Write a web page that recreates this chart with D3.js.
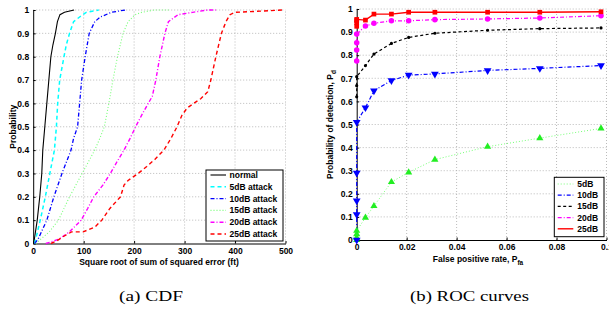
<!DOCTYPE html>
<html><head><meta charset="utf-8">
<script src="https://cdn.jsdelivr.net/npm/d3@7"></script>
<style>
body{margin:0;background:#fff;}
svg{display:block;}
.tick text{font-family:"Liberation Sans",Arial,sans-serif;font-weight:bold;font-size:8.5px;fill:#000;}
</style></head><body>
<svg id="c" width="609" height="309"></svg>
<script>
// ---------- (a) CDF data ----------
const cdfLabels = ["normal","5dB attack","10dB attack","15dB attack","20dB attack","25dB attack"];
const normalX = [1, 8, 13, 17, 19, 23, 27, 31, 35, 39, 44, 48, 53, 62, 81];
const normalP = [0, 0.1, 0.2, 0.3, 0.4, 0.5, 0.6, 0.7, 0.8, 0.85, 0.9, 0.95, 0.98, 0.99, 1.0];
const atk5X = [3, 14, 24, 33, 42, 46, 48.5, 52.5, 61, 65.5, 72, 80, 92, 105, 130];
const atk5P = [0, 0.1, 0.2, 0.3, 0.4, 0.5, 0.6, 0.7, 0.8, 0.85, 0.9, 0.95, 0.97, 0.99, 1.0];
const atk10X = [3, 10, 27, 41, 57, 75, 80, 88, 92, 96, 103, 111, 122, 133, 155, 182];
const atk10P = [0, 0.02, 0.1, 0.2, 0.3, 0.4, 0.45, 0.5, 0.6, 0.7, 0.8, 0.9, 0.95, 0.97, 0.99, 1.0];
const atk15X = [5, 32, 50, 72, 97, 122, 132, 141, 150, 158, 167, 178, 188, 202, 215, 240, 270];
const atk15P = [0, 0.05, 0.1, 0.2, 0.3, 0.4, 0.45, 0.5, 0.6, 0.7, 0.8, 0.9, 0.95, 0.98, 0.99, 1.0, 1.0];
const atk20X = [25, 40, 52, 72, 95, 108, 120, 138, 153, 166, 180, 192, 203, 215, 228, 236, 243, 251, 261, 268, 287, 316, 345, 362];
const atk20P = [0, 0.01, 0.02, 0.05, 0.1, 0.15, 0.2, 0.25, 0.3, 0.35, 0.4, 0.45, 0.5, 0.55, 0.6, 0.63, 0.7, 0.8, 0.9, 0.95, 0.98, 0.99, 1.0, 1.0];
const atk25X = [35, 46, 60, 76, 99, 122, 136, 152, 173, 180, 188, 208, 225, 241, 259, 273, 285, 295, 305, 318, 332, 346, 352, 362, 373, 382, 390, 400, 450, 495];
const atk25P = [0, 0.01, 0.03, 0.05, 0.05, 0.07, 0.1, 0.15, 0.2, 0.25, 0.27, 0.3, 0.33, 0.36, 0.4, 0.45, 0.5, 0.55, 0.58, 0.6, 0.62, 0.65, 0.7, 0.8, 0.9, 0.95, 0.98, 0.99, 0.995, 1.0];
const cdfXTicks = [0, 100, 200, 300, 400, 500];
const probTicks = [0, 0.1, 0.2, 0.3, 0.4, 0.5, 0.6, 0.7, 0.8, 0.9, 1];

// ---------- (b) ROC data ----------
const rocLabels = ["5dB","10dB","15dB","20dB","25dB"];
const roc5Fpr = [0, 0, 0, 0, 0.0035, 0.0069, 0.0139, 0.0208, 0.0313, 0.0524, 0.0733, 0.0978];
const roc5Pd = [0, 0.01, 0.025, 0.04, 0.097, 0.147, 0.251, 0.293, 0.348, 0.404, 0.441, 0.483];
const roc10Fpr = [0, 0, 0, 0, 0, 0.0035, 0.0069, 0.0139, 0.0208, 0.0313, 0.0524, 0.0733, 0.0978];
const roc10Pd = [0, 0.11, 0.17, 0.29, 0.51, 0.573, 0.646, 0.69, 0.714, 0.719, 0.734, 0.743, 0.755];
const roc15Fpr = [0, 0, 0, 0.0035, 0.0069, 0.0139, 0.0208, 0.0313, 0.0524, 0.0733, 0.0978];
const roc15Pd = [0.62, 0.668, 0.707, 0.755, 0.805, 0.851, 0.877, 0.895, 0.908, 0.915, 0.918];
const roc20Fpr = [0, 0, 0, 0, 0.0035, 0.0069, 0.0139, 0.0208, 0.0313, 0.0524, 0.0733, 0.0978];
const roc20Pd = [0.775, 0.822, 0.854, 0.892, 0.926, 0.938, 0.949, 0.949, 0.954, 0.957, 0.961, 0.971];
const roc25Fpr = [0, 0, 0, 0, 0.0035, 0.0069, 0.0139, 0.0208, 0.0313, 0.0524, 0.0733, 0.0978];
const roc25Pd = [0.925, 0.94, 0.95, 0.955, 0.952, 0.978, 0.978, 0.986, 0.986, 0.986, 0.986, 0.988];
const rocXTicks = [0, 0.02, 0.04, 0.06, 0.08, 0.1];

const FONT = '"Liberation Sans",Arial,sans-serif';
const SERIF = '"Liberation Serif","Times New Roman",serif';
const svg = d3.select("#c");
const zip = (a,b) => a.map((v,i)=>[v,b[i]]);
const probFmt = d => (d===0||d===1) ? String(d) : d.toFixed(1);

function drawFrame(g, x, y, xTicks, xFmt) {
  const [x0,x1] = x.range(), [y0,y1] = y.range();
  const grid = g.append("g");
  xTicks.filter(d=>d!==0).forEach(d=>{
    grid.append("line").attr("x1",x(d)).attr("x2",x(d)).attr("y1",y0).attr("y2",y1)
      .attr("stroke","#aaa").attr("stroke-width",0.8).attr("stroke-dasharray","1,2");
  });
  probTicks.filter(d=>d!==0).forEach(d=>{
    grid.append("line").attr("x1",x0).attr("x2",x1).attr("y1",y(d)).attr("y2",y(d))
      .attr("stroke","#aaa").attr("stroke-width",0.8).attr("stroke-dasharray","1,2");
  });
  const ax = g.append("g").attr("transform",`translate(0,${y0})`)
    .call(d3.axisBottom(x).tickValues(xTicks).tickFormat(xFmt).tickSize(-2.5).tickSizeOuter(0).tickPadding(4));
  const ay = g.append("g").attr("transform",`translate(${x0},0)`)
    .call(d3.axisLeft(y).tickValues(probTicks).tickFormat(probFmt).tickSize(-2.5).tickSizeOuter(0).tickPadding(4));
  [ax,ay].forEach(a=>{a.select(".domain").attr("stroke","#000").attr("stroke-width",1);
    a.selectAll(".tick line").attr("stroke","#000");});
}

// ===== Left: CDF =====
const xL = d3.scaleLinear().domain([0,500]).range([33.2,285.5]);
const yL = d3.scaleLinear().domain([0,1]).range([243.5,10]);
const gL = svg.append("g");
drawFrame(gL, xL, yL, cdfXTicks, d=>String(d));

const cdfSeries = [
  {x:normalX,p:normalP,c:"#000000",dash:null,w:1.1},
  {x:atk5X,p:atk5P,c:"#00ffff",dash:"4,3",w:1.5},
  {x:atk10X,p:atk10P,c:"#0000ff",dash:"4,2,1,2",w:1.3},
  {x:atk15X,p:atk15P,c:"#77ff77",dash:"1,2",w:1.1},
  {x:atk20X,p:atk20P,c:"#ff00ff",dash:"4,2,1,2",w:1.4},
  {x:atk25X,p:atk25P,c:"#ff0000",dash:"4,3",w:1.4}
];
const lineL = d3.line().x(d=>xL(d[0])).y(d=>yL(d[1]));
cdfSeries.forEach(s=>{
  gL.append("path").attr("d",lineL(zip(s.x,s.p))).attr("fill","none")
    .attr("stroke",s.c).attr("stroke-width",s.w).attr("stroke-dasharray",s.dash);
});

// axis labels
svg.append("text").attr("x",159).attr("y",265).attr("text-anchor","middle")
  .attr("font-family",FONT).attr("font-weight","bold").attr("font-size","8.5px").text("Square root of sum of squared error (ft)");
svg.append("text").attr("transform","translate(16,126.75) rotate(-90)").attr("text-anchor","middle")
  .attr("font-family",FONT).attr("font-weight","bold").attr("font-size","8.5px").text("Probability");

// legend L
const legL = svg.append("g");
legL.append("rect").attr("x",206).attr("y",170).attr("width",77).attr("height",71)
  .attr("fill","#fff").attr("stroke","#000").attr("stroke-width",1);
cdfLabels.forEach((lab,i)=>{
  const yy = 175 + i*11.8;
  const s = cdfSeries[i];
  legL.append("line").attr("x1",210.5).attr("x2",226).attr("y1",yy).attr("y2",yy)
    .attr("stroke",s.c).attr("stroke-width",s.w).attr("stroke-dasharray",s.dash);
  legL.append("text").attr("x",229.5).attr("y",yy+3).attr("font-family",FONT).attr("font-weight","bold")
    .attr("font-size","8.5px").text(lab);
});

// ===== Right: ROC =====
const xR = d3.scaleLinear().domain([0,0.1]).range([356.7,606.5]);
const yR = d3.scaleLinear().domain([0,1]).range([240,9]);
const gR = svg.append("g");
drawFrame(gR, xR, yR, rocXTicks, d=>d===0?"0":String(+d.toFixed(2)));

const rocSeries = [
  {x:roc5Fpr,p:roc5Pd,c:"#77ff77",mc:"#22ee22",dash:"1,2",w:1,m:"tri"},
  {x:roc10Fpr,p:roc10Pd,c:"#0000ff",mc:"#0000ff",dash:"4,2,1,2",w:1.2,m:"tridown"},
  {x:roc15Fpr,p:roc15Pd,c:"#000000",mc:"#000000",dash:"3,2.5",w:1.2,m:"dot"},
  {x:roc20Fpr,p:roc20Pd,c:"#ff00ff",mc:"#ff00ff",dash:"4,2,1,2",w:1.2,m:"circle"},
  {x:roc25Fpr,p:roc25Pd,c:"#ff0000",mc:"#ff0000",dash:null,w:1.4,m:"square"}
];
const lineR = d3.line().x(d=>xR(d[0])).y(d=>yR(d[1]));
rocSeries.forEach(s=>{
  gR.append("path").attr("d",lineR(zip(s.x,s.p))).attr("fill","none")
    .attr("stroke",s.c).attr("stroke-width",s.w).attr("stroke-dasharray",s.dash);
});
const sym = {
  tri: d3.symbol().type(d3.symbolTriangle).size(22),
  tridown: d3.symbol().type(d3.symbolTriangle).size(26),
  dot: d3.symbol().type(d3.symbolCircle).size(8),
  circle: d3.symbol().type(d3.symbolCircle).size(24),
  square: d3.symbol().type(d3.symbolSquare).size(22)
};
rocSeries.forEach(s=>{
  zip(s.x,s.p).forEach(d=>{
    const rot = s.m==="tridown" ? " rotate(180)" : "";
    gR.append("path").attr("d",sym[s.m]()).attr("fill",s.mc)
      .attr("transform",`translate(${xR(d[0])},${yR(d[1])})${rot}`);
  });
});

// axis labels right
const xlab = svg.append("text").attr("x",478).attr("y",262).attr("text-anchor","middle")
  .attr("font-family",FONT).attr("font-weight","bold").attr("font-size","8.5px");
xlab.append("tspan").text("False positive rate, P");
xlab.append("tspan").attr("dy",3).attr("font-size","6.5px").text("fa");
const ylab = svg.append("text").attr("transform","translate(333,124.5) rotate(-90)").attr("text-anchor","middle")
  .attr("font-family",FONT).attr("font-weight","bold").attr("font-size","8.5px");
ylab.append("tspan").text("Probability of detection, P");
ylab.append("tspan").attr("dy",3).attr("font-size","6.5px").text("d");

// legend R
const legR = svg.append("g");
legR.append("rect").attr("x",554.3).attr("y",177.3).attr("width",49.7).attr("height",59.4)
  .attr("fill","#fff").attr("stroke","#000").attr("stroke-width",1);
rocLabels.forEach((lab,i)=>{
  const yy = 184 + i*11.2;
  const s = rocSeries[i];
  legR.append("line").attr("x1",557.7).attr("x2",573.3).attr("y1",yy).attr("y2",yy)
    .attr("stroke",s.c).attr("stroke-width",s.w).attr("stroke-dasharray",s.dash);
  legR.append("text").attr("x",577.3).attr("y",yy+3).attr("font-family",FONT).attr("font-weight","bold")
    .attr("font-size","8.5px").text(lab);
});

// captions
svg.append("text").attr("x",151).attr("y",301).attr("text-anchor","middle")
  .attr("font-family",SERIF).attr("font-size","15.5px")
  .attr("textLength",64).attr("lengthAdjust","spacingAndGlyphs").text("(a) CDF");
svg.append("text").attr("x",469.5).attr("y",301).attr("text-anchor","middle")
  .attr("font-family",SERIF).attr("font-size","15.5px")
  .attr("textLength",119).attr("lengthAdjust","spacingAndGlyphs").text("(b) ROC curves");
</script>
</body></html>
